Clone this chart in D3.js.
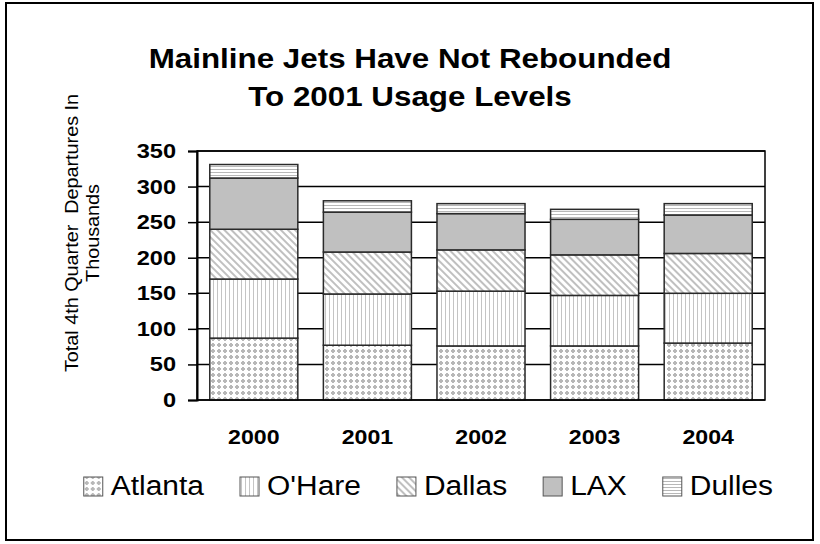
<!DOCTYPE html>
<html><head><meta charset="utf-8">
<script src="https://cdn.jsdelivr.net/npm/d3@7"></script>
<style>
html,body{margin:0;padding:0;background:#fff;}
text{font-family:"Liberation Sans",Arial,Helvetica,sans-serif;fill:#000;white-space:pre;}
</style></head>
<body>
<svg id="chart" width="820" height="544"></svg>
<script>
// ---- data ----
const categories = ["2000", "2001", "2002", "2003", "2004"];
const seriesNames = ["Atlanta", "O'Hare", "Dallas", "LAX", "Dulles"];
const atlanta = [87, 77, 76, 76, 80];
const ohare   = [83, 72, 77, 71, 70];
const dallas  = [70, 59, 58, 57, 56];
const lax     = [72, 56, 51, 50, 54];
const dulles  = [19, 16, 14, 14, 16];
const yTicks  = [0, 50, 100, 150, 200, 250, 300, 350];
const titleLines = ["Mainline Jets Have Not Rebounded", "To 2001 Usage Levels"];
const yTitleLines = ["Total 4th Quarter  Departures In", "Thousands"];

const seriesValues = [atlanta, ohare, dallas, lax, dulles];
const patternIds = ["pAtl", "pOh", "pDal", "pLax", "pDul"];

const svg = d3.select("#chart");
const L = {left: 197, right: 765, top: 151, bottom: 400};

// ---- patterns ----
const defs = svg.append("defs");
{
  const p = defs.append("pattern").attr("id", "pAtl").attr("patternUnits", "userSpaceOnUse")
    .attr("width", 6).attr("height", 6);
  p.append("rect").attr("width", 6).attr("height", 6).attr("fill", "#fff");
  p.append("rect").attr("x", 1).attr("y", 2).attr("width", 4).attr("height", 2).attr("fill", "#b8b8b8");
  p.append("rect").attr("x", 2).attr("y", 1).attr("width", 2).attr("height", 4).attr("fill", "#b8b8b8");
}
{
  const p = defs.append("pattern").attr("id", "pOh").attr("patternUnits", "userSpaceOnUse")
    .attr("width", 4).attr("height", 4);
  p.append("rect").attr("width", 4).attr("height", 4).attr("fill", "#fff");
  p.append("rect").attr("x", 1).attr("width", 1).attr("height", 4).attr("fill", "#c4c4c4");
}
{
  const p = defs.append("pattern").attr("id", "pDal").attr("patternUnits", "userSpaceOnUse")
    .attr("width", 5).attr("height", 5).attr("patternTransform", "rotate(-45)");
  p.append("rect").attr("width", 5).attr("height", 5).attr("fill", "#fff");
  p.append("rect").attr("x", 0).attr("width", 2).attr("height", 5).attr("fill", "#c0c0c0");
}
{
  const p = defs.append("pattern").attr("id", "pLax").attr("patternUnits", "userSpaceOnUse")
    .attr("width", 4).attr("height", 4);
  p.append("rect").attr("width", 4).attr("height", 4).attr("fill", "#c0c0c0");
}
{
  const p = defs.append("pattern").attr("id", "pDul").attr("patternUnits", "userSpaceOnUse")
    .attr("width", 4).attr("height", 3);
  p.append("rect").attr("width", 4).attr("height", 3).attr("fill", "#fff");
  p.append("rect").attr("y", 1).attr("width", 4).attr("height", 1).attr("fill", "#b8b8b8");
}

// ---- outer frame ----
svg.append("rect").attr("x", 6).attr("y", 3).attr("width", 807).attr("height", 537)
  .attr("fill", "none").attr("stroke", "#000").attr("stroke-width", 2);

function stretched(parent, x, y, txt, size, weight, anchor, sx, rot) {
  const g = parent.append("g")
    .attr("transform", `translate(${x},${y})${rot ? ` rotate(${rot})` : ""} scale(${sx},1)`);
  return g.append("text").text(txt)
    .attr("font-size", size).attr("font-weight", weight).attr("text-anchor", anchor);
}

// ---- title ----
titleLines.forEach((t, i) => stretched(svg, 410, 68 + i * 38, t, 28, "bold", "middle", 1.12));

// ---- scales ----
const x = d3.scaleBand().domain(categories).range([L.left, L.right])
  .paddingInner(0.225).paddingOuter(0.1125);
const y = d3.scaleLinear().domain([0, 350]).range([L.bottom, L.top]);

// ---- gridlines ----
svg.append("g").selectAll("line").data(yTicks).join("line")
  .attr("x1", L.left).attr("x2", L.right)
  .attr("y1", d => y(d)).attr("y2", d => y(d))
  .attr("stroke", "#000").attr("stroke-width", 1.5);

// ---- stacked bars ----
const rows = categories.map((c, i) => {
  const o = {cat: c};
  seriesNames.forEach((s, j) => o[s] = seriesValues[j][i]);
  return o;
});
const stack = d3.stack().keys(seriesNames)(rows);
svg.append("g").selectAll("g").data(stack).join("g")
  .attr("fill", (d, i) => `url(#${patternIds[i]})`)
  .selectAll("rect").data(d => d).join("rect")
  .attr("x", d => x(d.data.cat))
  .attr("width", x.bandwidth())
  .attr("y", d => y(d[1]))
  .attr("height", d => y(d[0]) - y(d[1]))
  .attr("stroke", "#2a2a2a").attr("stroke-width", 1.5);

// ---- axes ----
const yAxis = d3.axisLeft(y).tickValues(yTicks).tickSize(9).tickFormat("");
const ya = svg.append("g").attr("transform", `translate(${L.left},0)`).call(yAxis);
ya.selectAll("path").attr("stroke", "#000").attr("stroke-width", 2);
ya.selectAll("line").attr("stroke", "#000").attr("stroke-width", 1.5);

svg.append("rect").attr("x", L.left).attr("y", L.top)
  .attr("width", L.right - L.left).attr("height", L.bottom - L.top)
  .attr("fill", "none").attr("stroke", "#000").attr("stroke-width", 1.5);

const tickG = svg.append("g");
yTicks.forEach(t => stretched(tickG, 176, y(t) + 7, String(t), 20.5, "bold", "end", 1.15));

const catG = svg.append("g");
categories.forEach(c => stretched(catG, x(c) + x.bandwidth() / 2, 444, c, 20.5, "bold", "middle", 1.13));

// ---- y title ----
yTitleLines.forEach((t, i) => stretched(svg, 78 + i * 21, 233, t, 18, "normal", "middle", 1.1, -90));

// ---- legend ----
const legend = svg.append("g");
const LSX = 1.07, SW = 19, GAP_T = 8, GAP_I = 36, LEG_RIGHT = 773;
const items = seriesNames.map((s, i) => {
  const g = legend.append("g");
  g.append("rect").attr("x", 0).attr("y", 477).attr("width", SW).attr("height", SW)
    .attr("fill", `url(#${patternIds[i]})`).attr("stroke", "#555").attr("stroke-width", 1);
  const t = stretched(g, SW + GAP_T, 495, s, 28, "normal", "start", LSX);
  return {g, w: SW + GAP_T + t.node().getComputedTextLength() * LSX};
});
const total = d3.sum(items, d => d.w) + GAP_I * (items.length - 1);
let lx = LEG_RIGHT - total;
items.forEach(it => { it.g.attr("transform", `translate(${lx},0)`); lx += it.w + GAP_I; });
</script>
</body></html>
